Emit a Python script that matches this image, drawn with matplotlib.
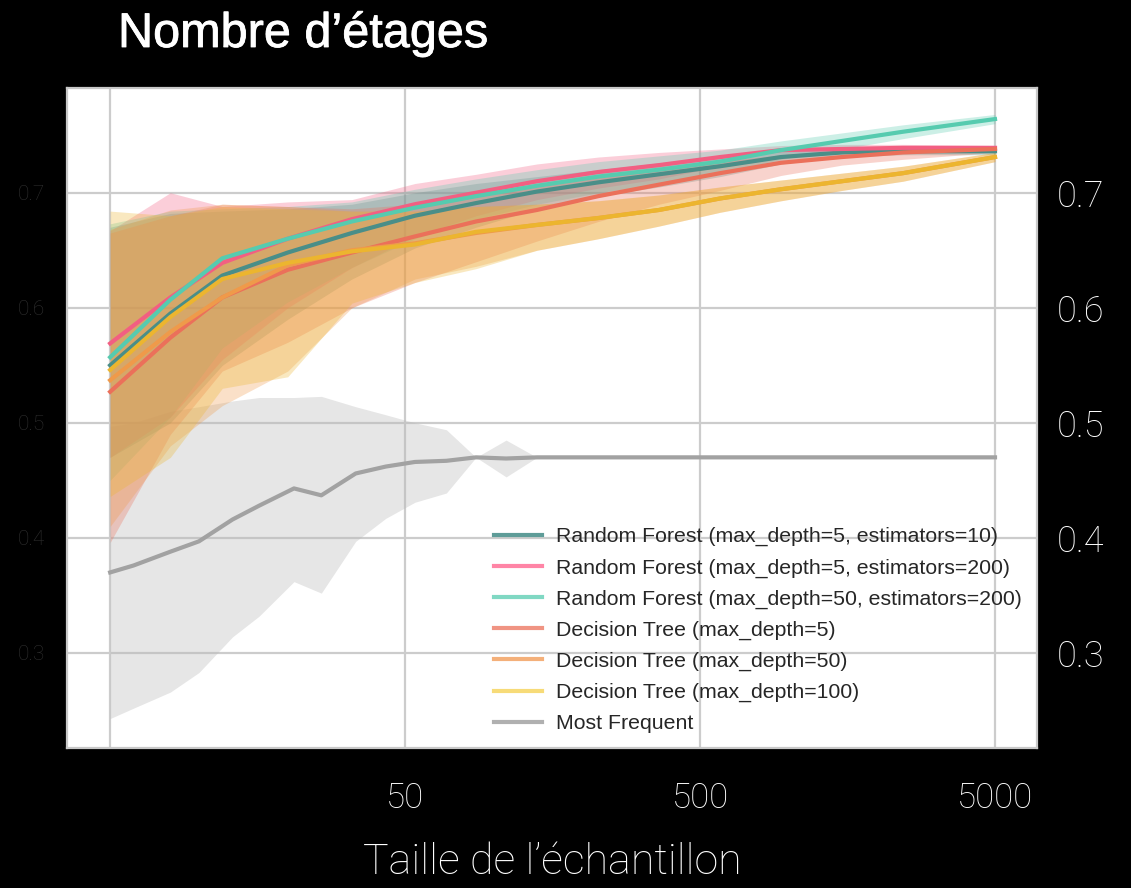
import matplotlib
matplotlib.use("Agg")
import matplotlib.pyplot as plt
from matplotlib.lines import Line2D
import matplotlib.patheffects as pe

# sample sizes used for the models (log spaced)
sizes = [5, 8, 12, 20, 33, 54, 87, 140, 226, 363, 585, 941, 1516, 2440, 5000]

labels = [
    "Random Forest (max_depth=5, estimators=10)",
    "Random Forest (max_depth=5, estimators=200)",
    "Random Forest (max_depth=50, estimators=200)",
    "Decision Tree (max_depth=5)",
    "Decision Tree (max_depth=50)",
    "Decision Tree (max_depth=100)",
]
colors = ["#4a8e88", "#f25f82", "#56cbaf", "#eb705a", "#ef9a4a", "#ecb52f"]
legend_colors = ["#5e9c98", "#ff85a6", "#80d8c3", "#f09483", "#f4b07a", "#f7db78"]

rf5_10_mean = [0.550, 0.595, 0.628, 0.648, 0.665, 0.680, 0.691, 0.701, 0.709, 0.716, 0.723, 0.731, 0.735, 0.736, 0.736]
rf5_10_high = [0.670, 0.682, 0.684, 0.686, 0.690, 0.700, 0.708, 0.714, 0.720, 0.726, 0.731, 0.736, 0.739, 0.740, 0.739]
rf5_10_low = [0.470, 0.500, 0.550, 0.590, 0.625, 0.652, 0.670, 0.686, 0.697, 0.705, 0.714, 0.725, 0.731, 0.733, 0.733]

rf5_200_mean = [0.569, 0.609, 0.639, 0.660, 0.677, 0.690, 0.700, 0.710, 0.718, 0.724, 0.731, 0.737, 0.738, 0.739, 0.739]
rf5_200_high = [0.667, 0.700, 0.688, 0.692, 0.694, 0.708, 0.716, 0.725, 0.731, 0.735, 0.738, 0.741, 0.742, 0.742, 0.741]
rf5_200_low = [0.470, 0.505, 0.555, 0.600, 0.635, 0.662, 0.680, 0.694, 0.704, 0.712, 0.723, 0.732, 0.734, 0.736, 0.737]

rf50_200_mean = [0.557, 0.607, 0.643, 0.660, 0.675, 0.687, 0.697, 0.706, 0.714, 0.720, 0.727, 0.737, 0.745, 0.753, 0.764]
rf50_200_high = [0.673, 0.684, 0.686, 0.688, 0.692, 0.703, 0.712, 0.720, 0.727, 0.732, 0.737, 0.745, 0.752, 0.759, 0.768]
rf50_200_low = [0.450, 0.505, 0.565, 0.605, 0.635, 0.660, 0.677, 0.690, 0.700, 0.708, 0.717, 0.729, 0.738, 0.747, 0.760]

dt5_mean = [0.527, 0.574, 0.609, 0.633, 0.648, 0.662, 0.675, 0.685, 0.697, 0.707, 0.717, 0.726, 0.731, 0.735, 0.738]
dt5_high = [0.665, 0.680, 0.690, 0.688, 0.686, 0.690, 0.698, 0.705, 0.713, 0.720, 0.727, 0.733, 0.737, 0.739, 0.741]
dt5_low = [0.396, 0.490, 0.545, 0.570, 0.600, 0.622, 0.640, 0.658, 0.675, 0.690, 0.702, 0.715, 0.724, 0.729, 0.735]

dt50_mean = [0.537, 0.579, 0.609, 0.637, 0.650, 0.656, 0.665, 0.672, 0.678, 0.685, 0.695, 0.703, 0.710, 0.717, 0.731]
dt50_high = [0.668, 0.685, 0.690, 0.688, 0.684, 0.684, 0.688, 0.690, 0.693, 0.698, 0.705, 0.711, 0.717, 0.723, 0.735]
dt50_low = [0.410, 0.480, 0.515, 0.545, 0.600, 0.625, 0.636, 0.650, 0.660, 0.671, 0.683, 0.693, 0.702, 0.710, 0.727]

dt100_mean = [0.546, 0.592, 0.625, 0.639, 0.649, 0.655, 0.666, 0.672, 0.678, 0.685, 0.695, 0.703, 0.710, 0.717, 0.731]
dt100_high = [0.684, 0.680, 0.688, 0.686, 0.684, 0.684, 0.688, 0.690, 0.693, 0.698, 0.705, 0.711, 0.717, 0.723, 0.735]
dt100_low = [0.436, 0.470, 0.530, 0.540, 0.604, 0.622, 0.634, 0.650, 0.660, 0.671, 0.683, 0.693, 0.702, 0.710, 0.727]

# most frequent baseline
mf_sizes = [5, 6, 8, 10, 13, 16, 21, 26, 34, 43, 54, 69, 87, 110, 140, 5000]
mf_mean = [0.370, 0.376, 0.388, 0.397, 0.416, 0.428, 0.443, 0.437, 0.456, 0.462, 0.466, 0.467, 0.470, 0.469, 0.470, 0.470]
mf_high = [0.497, 0.500, 0.510, 0.514, 0.519, 0.522, 0.522, 0.523, 0.514, 0.507, 0.500, 0.494, 0.470, 0.485, 0.470, 0.470]
mf_low = [0.243, 0.252, 0.266, 0.283, 0.314, 0.332, 0.362, 0.352, 0.397, 0.417, 0.431, 0.439, 0.470, 0.453, 0.470, 0.470]

means = [rf5_10_mean, rf5_200_mean, rf50_200_mean, dt5_mean, dt50_mean, dt100_mean]
highs = [rf5_10_high, rf5_200_high, rf50_200_high, dt5_high, dt50_high, dt100_high]
lows = [rf5_10_low, rf5_200_low, rf50_200_low, dt5_low, dt50_low, dt100_low]

light = "Roboto"

fig = plt.figure(figsize=(11.31, 8.88), dpi=100, facecolor="black")
ax = fig.add_axes([67 / 1131, 140 / 888, 970 / 1131, 660 / 888])
ax.set_facecolor("white")

ax.fill_between(mf_sizes, mf_low, mf_high, color="#b8b8b8", alpha=0.35, linewidth=0)
for lo, hi, c in zip(lows, highs, colors):
    ax.fill_between(sizes, lo, hi, color=c, alpha=0.3, linewidth=0)

ax.plot(mf_sizes, mf_mean, color="#a2a2a2", linewidth=3)
for m, c in zip(means, colors):
    ax.plot(sizes, m, color=c, linewidth=3)

ax.set_xscale("log")
ax.set_xlim(3.57, 6940)
ax.set_ylim(0.2174, 0.791)
ax.set_xticks([5, 50, 500, 5000])
ax.set_xticklabels(["", "50", "500", "5000"])
ax.minorticks_off()
ax.set_yticks([0.3, 0.4, 0.5, 0.6, 0.7])
ax.grid(True, color="#cccccc", linewidth=1.6)
ax.set_axisbelow(True)
for s in ax.spines.values():
    s.set_color("#c8c8c8")
    s.set_linewidth(1.6)

ax.tick_params(axis="x", length=0, pad=24, labelsize=25, labelcolor="white")
ax.tick_params(axis="y", length=0, pad=16, labelsize=15, labelcolor="#303030")
for t in ax.get_xticklabels():
    t.set_fontfamily(light)
    t.set_fontweight("light")
for t in ax.get_yticklabels():
    t.set_fontfamily(light)
    t.set_fontweight("light")

sec = ax.secondary_yaxis("right")
sec.set_yticks([0.3, 0.4, 0.5, 0.6, 0.7])
sec.tick_params(length=0, pad=14, labelsize=26, labelcolor="white")
sec.spines["right"].set_visible(False)
for t in sec.get_yticklabels():
    t.set_fontfamily(light)
    t.set_fontweight("light")

handles = [Line2D([], [], color=c, linewidth=3) for c in legend_colors]
handles.append(Line2D([], [], color="#b0b0b0", linewidth=3))
leg = ax.legend(handles, labels + ["Most Frequent"], loc="lower right",
                bbox_to_anchor=(1.0, 0.0), frameon=False, borderaxespad=0.3,
                handlelength=2.3, handletextpad=0.65, labelspacing=0.56,
                prop={"family": "Liberation Sans", "size": 15.3})
for t in leg.get_texts():
    t.set_color("#262626")

fig.text(118 / 1131, 1 - 47 / 888, "Nombre d\u2019étages", color="white",
         fontsize=35, fontfamily="Liberation Sans", va="baseline",
         path_effects=[pe.withStroke(linewidth=0.6, foreground="white")])
fig.text(552 / 1131, 1 - 862 / 888, "Taille de l\u2019échantillon", color="white",
         fontsize=31, fontfamily=light, fontweight="light", ha="center", va="center")

fig.savefig("out.png", dpi=100, facecolor="black")
